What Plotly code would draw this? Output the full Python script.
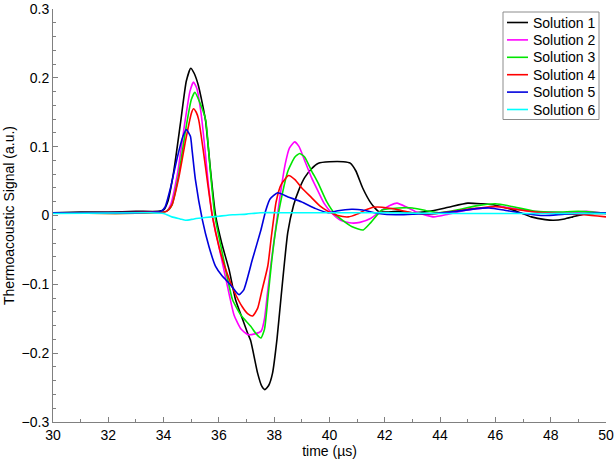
import plotly.graph_objects as go

# ---- data ----
series_names = ["Solution 1", "Solution 2", "Solution 3", "Solution 4", "Solution 5", "Solution 6"]
series_colors = ["#000000", "#ff00ff", "#00e600", "#ff0000", "#0000dd", "#00ffff"]

t_sol1 = [30, 31, 32, 33, 33.8, 34.0, 34.15, 34.37, 34.62, 34.82, 34.98, 35.1, 35.25, 35.4, 35.52, 35.7,
          35.88, 36.1, 36.37, 36.6, 36.85, 37.03, 37.15, 37.4, 37.55, 37.66, 37.8, 37.94, 38.1, 38.24, 38.49,
          38.7, 38.9, 39.1, 39.35, 39.6, 40.0, 40.5, 40.75, 40.95, 41.2, 41.5, 41.77, 42.0, 42.5, 43.0, 43.6,
          44.3, 45.0, 45.5, 46.0, 46.5, 46.9, 47.3, 47.8, 48.1, 48.5, 48.8, 49.2, 49.6, 50]
v_sol1 = [0.004, 0.005, 0.005, 0.006, 0.006, 0.008, 0.02, 0.065, 0.137, 0.195, 0.214, 0.207, 0.19, 0.163, 0.137, 0.064,
          0.0, -0.04, -0.079, -0.122, -0.15, -0.17, -0.182, -0.229, -0.248, -0.253, -0.247, -0.229, -0.18, -0.122, -0.025,
          0.015, 0.038, 0.055, 0.068, 0.076, 0.078, 0.078, 0.076, 0.065, 0.04, 0.018, 0.006, 0.005, 0.006, 0.004, 0.006,
          0.012, 0.018, 0.017, 0.015, 0.01, 0.004, -0.002, -0.006, -0.007, -0.005, -0.002, 0.002, 0.003, 0.003]

t_sol2 = [30, 33.9, 34.1, 34.25, 34.5, 34.75, 34.95, 35.08, 35.2, 35.35, 35.5, 35.62, 35.76, 36.0, 36.31, 36.55,
          36.8, 37.04, 37.3, 37.53, 37.65, 37.75, 37.9, 38.05, 38.2, 38.4, 38.55, 38.74, 38.9, 39.1, 39.35,
          39.59, 39.8, 40.07, 40.4, 40.8, 41.1, 41.5, 41.9, 42.2, 42.44, 42.8, 43.2, 43.77, 44.3, 45.0, 45.6,
          46.1, 46.7, 47.3, 48.0, 48.7, 49.3, 50]
v_sol2 = [0.004, 0.005, 0.006, 0.015, 0.06, 0.13, 0.18, 0.194, 0.185, 0.15, 0.095, 0.045, 0.0, -0.045, -0.103, -0.145,
          -0.165, -0.173, -0.172, -0.168, -0.15, -0.115, -0.065, -0.02, 0.025, 0.075, 0.098, 0.107, 0.1, 0.08, 0.055,
          0.035, 0.018, 0.004, -0.007, -0.011, -0.01, -0.004, 0.008, 0.015, 0.018, 0.012, 0.004, -0.002, 0.002, 0.008, 0.011,
          0.013, 0.01, 0.006, 0.005, 0.004, 0.006, 0.003]

t_sol3 = [30, 34.1, 34.3, 34.55, 34.8, 35.0, 35.13, 35.3, 35.52, 35.68, 35.85, 36.1, 36.49, 36.8, 37.15, 37.35,
          37.52, 37.65, 37.77, 37.9, 38.04, 38.25, 38.5, 38.75, 38.92, 39.1, 39.35, 39.59, 39.9, 40.2, 40.44,
          40.8, 41.22, 41.5, 41.9, 42.5, 43.0, 43.5, 43.95, 44.6, 45.3, 46.0, 46.6, 47.45, 48.2, 49.0, 49.5, 50]
v_sol3 = [0.004, 0.006, 0.015, 0.06, 0.125, 0.168, 0.179, 0.165, 0.139, 0.07, 0.0, -0.05, -0.122, -0.145, -0.161, -0.172,
          -0.178, -0.165, -0.121, -0.07, -0.025, 0.023, 0.065, 0.085, 0.09, 0.085, 0.065, 0.047, 0.02, 0.002, -0.006,
          -0.016, -0.021, -0.01, 0.008, 0.011, 0.011, 0.007, 0.004, 0.008, 0.014, 0.017, 0.013, 0.006, 0.005, 0.006, 0.005, 0.003]

t_sol4 = [30, 34.1, 34.3, 34.55, 34.8, 35.0, 35.08, 35.18, 35.27, 35.45, 35.6, 35.76, 36.0, 36.25, 36.55, 36.85,
          37.05, 37.22, 37.4, 37.55, 37.77, 37.9, 38.07, 38.25, 38.52, 38.75, 39.0, 39.35, 39.65, 39.95, 40.3,
          40.68, 41.0, 41.3, 41.6, 41.9, 42.4, 43.0, 43.6, 44.3, 45.2, 46.0, 46.7, 47.45, 48.3, 49.2, 50]
v_sol4 = [0.004, 0.006, 0.015, 0.055, 0.11, 0.148, 0.155, 0.15, 0.139, 0.09, 0.045, 0.0, -0.045, -0.079, -0.11, -0.133,
          -0.143, -0.146, -0.135, -0.11, -0.073, -0.03, 0.02, 0.045, 0.058, 0.052, 0.04, 0.026, 0.014, 0.006, 0.0,
          -0.002, 0.002, 0.008, 0.012, 0.012, 0.009, 0.004, 0.002, 0.005, 0.01, 0.013, 0.009, 0.005, 0.003, 0.001, -0.002]

t_sol5 = [30, 33.9, 34.05, 34.25, 34.5, 34.7, 34.82, 34.97, 35.03, 35.15, 35.4, 35.64, 35.88, 36.12, 36.36, 36.6,
          36.73, 36.9, 37.21, 37.52, 37.7, 37.85, 38.13, 38.5, 38.98, 39.5, 39.95, 40.3, 40.8, 41.2, 41.77,
          42.4, 43.0, 43.8, 44.6, 45.3, 45.77, 46.3, 47.0, 47.8, 48.5, 49.2, 50]
v_sol5 = [0.004, 0.006, 0.012, 0.04, 0.085, 0.115, 0.125, 0.115, 0.095, 0.052, -0.006, -0.045, -0.074, -0.088, -0.098, -0.11,
          -0.115, -0.108, -0.064, -0.021, 0.008, 0.024, 0.033, 0.027, 0.02, 0.01, 0.004, 0.007, 0.009, 0.008, 0.003,
          0.001, 0.002, 0.003, 0.006, 0.01, 0.011, 0.008, 0.003, 0.0, 0.002, 0.003, 0.004]

t_sol6 = [30, 33.5, 34.0, 34.3, 34.6, 34.8, 35.1, 35.5, 36.0, 36.5, 37.0, 37.5, 38.5, 40, 42, 44, 46, 48, 50]
v_sol6 = [0.003, 0.004, 0.003, -0.002, -0.005, -0.007, -0.005, -0.003, -0.001, 0.001, 0.002, 0.004, 0.004, 0.004,
          0.004, 0.003, 0.003, 0.003, 0.003]

x_ticks = [30, 32, 34, 36, 38, 40, 42, 44, 46, 48, 50]
y_ticks = [-0.3, -0.2, -0.1, 0, 0.1, 0.2, 0.3]
y_ticklabels = ["\u22120.3", "\u22120.2", "\u22120.1", "0", "0.1", "0.2", "0.3"]

all_t = [t_sol1, t_sol2, t_sol3, t_sol4, t_sol5, t_sol6]
all_v = [v_sol1, v_sol2, v_sol3, v_sol4, v_sol5, v_sol6]

FONT = "Liberation Sans, Arial, sans-serif"
W, H = 616, 459
ML, MT = 53, 9
PW, PH = 553, 413
MR, MB = W - ML - PW, H - MT - PH

fig = go.Figure()
for name, col, tt, vv in zip(series_names, series_colors, all_t, all_v):
    fig.add_trace(go.Scatter(x=tt, y=vv, mode="lines", name=name, showlegend=False,
                             line=dict(color=col, width=1.6, shape="spline", smoothing=0.5)))

axis_common = dict(showgrid=False, zeroline=False, showline=True, linecolor="#808080", linewidth=1,
                   ticks="inside", tickcolor="#808080", ticklen=5, tickwidth=1, automargin=False,
                   tickfont=dict(family=FONT, size=14, color="#000000"), mirror=False)

fig.update_xaxes(range=[30, 50], tickmode="array", tickvals=x_ticks, ticktext=[str(v) for v in x_ticks],
                 title=dict(text="time (\u00b5s)", font=dict(family=FONT, size=14, color="#000000"), standoff=0),
                 minor=dict(dtick=1, ticks="inside", ticklen=3, tickcolor="#808080"),
                 **axis_common)
fig.update_yaxes(range=[-0.3, 0.3], tickmode="array", tickvals=y_ticks, ticktext=y_ticklabels,
                 title=dict(text="Thermoacoustic Signal (a.u.)", font=dict(family=FONT, size=14, color="#000000"),
                            standoff=3),
                 minor=dict(dtick=0.02, tick0=0, ticks="inside", ticklen=3, tickcolor="#808080"),
                 **axis_common)

# ---- legend box (drawn in paper coordinates, converted from pixels) ----
def px_x(p):
    return (p - ML) / PW

def px_y(p):
    return (MT + PH - p) / PH

box_l, box_r, box_t = 503, 599, 12
row_h = 17.4
first_row = 22.5
box_b = first_row + row_h * (len(series_names) - 1) + 10

shapes = [dict(type="rect", xref="paper", yref="paper",
               x0=px_x(box_l), x1=px_x(box_r), y0=px_y(box_b), y1=px_y(box_t),
               line=dict(color="#8c8c8c", width=1), fillcolor="white", layer="above")]
annotations = []
for i, (name, col) in enumerate(zip(series_names, series_colors)):
    yc = first_row + i * row_h
    shapes.append(dict(type="line", xref="paper", yref="paper",
                       x0=px_x(507), x1=px_x(528), y0=px_y(yc), y1=px_y(yc),
                       line=dict(color=col, width=1.6), layer="above"))
    annotations.append(dict(xref="paper", yref="paper", x=px_x(531), y=px_y(yc),
                            xanchor="left", yanchor="middle", showarrow=False, text=name,
                            font=dict(family=FONT, size=14, color="#000000")))

fig.update_layout(
    width=W, height=H,
    margin=dict(l=ML, r=MR, t=MT, b=MB, autoexpand=False),
    paper_bgcolor="white", plot_bgcolor="white",
    font=dict(family=FONT, size=14, color="#000000"),
    shapes=shapes, annotations=annotations,
    showlegend=False,
)

# remove the browser's default 8 px page margin so the figure fills the window exactly
fig.write_html("out.html", config={"displayModeBar": False},
               post_script="document.body.style.margin='0';document.body.style.overflow='hidden';")
